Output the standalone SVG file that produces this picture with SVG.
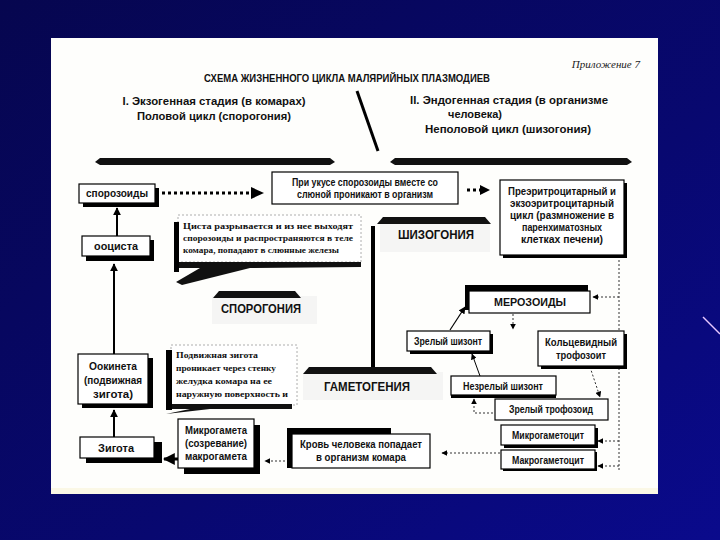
<svg xmlns="http://www.w3.org/2000/svg" width="720" height="540" viewBox="0 0 720 540">
<defs>
<linearGradient id="bg" x1="0" y1="0" x2="1" y2="1">
<stop offset="0" stop-color="#06064f"/>
<stop offset="0.6" stop-color="#080870"/>
<stop offset="1" stop-color="#0a0a8c"/>
</linearGradient>
<marker id="ah" viewBox="0 0 10 10" refX="9" refY="5" markerWidth="4" markerHeight="4" orient="auto" markerUnits="strokeWidth"><path d="M0,0 L10,5 L0,10 z" fill="#000"/></marker>
<marker id="ahs" viewBox="0 0 10 10" refX="9" refY="5" markerWidth="6" markerHeight="6" orient="auto" markerUnits="strokeWidth"><path d="M0,0 L10,5 L0,10 z" fill="#000"/></marker>
<style>
.box{fill:#fff;stroke:#000;stroke-width:1.2}
.sh{fill:#000}
.t{font-family:"Liberation Sans",Arial,sans-serif;font-weight:bold;font-size:10px;fill:#111;text-anchor:middle}
.h{font-family:"Liberation Sans",Arial,sans-serif;font-weight:bold;font-size:13px;fill:#111;text-anchor:middle}
.s{font-family:"Liberation Serif","Times New Roman",serif;font-weight:bold;font-size:9px;fill:#111}
.ln{stroke:#000;stroke-width:2;fill:none}
.dt{stroke:#000;stroke-width:3;stroke-dasharray:3 3;fill:none}
.dd{stroke:#333;stroke-width:1;stroke-dasharray:2 2;fill:none}
.sp{fill:#ececec;opacity:0.45}
</style>
</defs>
<rect width="720" height="540" fill="url(#bg)"/>
<line x1="703" y1="317" x2="720" y2="334" stroke="#e8c8ff" stroke-width="1.5"/>
<rect x="51" y="38" width="607" height="456" fill="#fefefc"/>
<rect x="51" y="488" width="607" height="6" fill="#fbf8e6"/>

<g id="header">
<text x="640" y="68" text-anchor="end" font-family="Liberation Serif,serif" font-style="italic" font-size="11" fill="#222">Приложение 7</text>
<text class="t" x="347" y="82" textLength="286" lengthAdjust="spacingAndGlyphs">СХЕМА ЖИЗНЕННОГО ЦИКЛА МАЛЯРИЙНЫХ ПЛАЗМОДИЕВ</text>
<text class="t" x="214" y="105" font-size="12" textLength="183" lengthAdjust="spacingAndGlyphs">I. Экзогенная стадия (в комарах)</text>
<text class="t" x="214" y="120" font-size="12" textLength="154" lengthAdjust="spacingAndGlyphs">Половой цикл (спорогония)</text>
<text class="t" x="509" y="104" font-size="12" textLength="198" lengthAdjust="spacingAndGlyphs">II. Эндогенная стадия (в организме</text>
<text class="t" x="475" y="118" font-size="12" textLength="54" lengthAdjust="spacingAndGlyphs">человека)</text>
<text class="t" x="508" y="133" font-size="12" textLength="166" lengthAdjust="spacingAndGlyphs">Неполовой цикл (шизогония)</text>
<line x1="357" y1="91" x2="378" y2="151" stroke="#000" stroke-width="3"/>
<polygon points="95,162 100,158 330,158 335,162 330,165 100,165" fill="#111"/>
<polygon points="390,162 395,158 627,158 632,162 627,165 395,165" fill="#111"/>
</g>

<g id="connectors">
<line class="dt" x1="162" y1="193" x2="252" y2="193"/>
<polygon points="251,187 264,193 251,199" fill="#000"/>
<line class="dt" x1="467" y1="190" x2="481" y2="190"/>
<polygon points="480,185 490,190 480,195" fill="#000"/>
<line class="ln" x1="117" y1="236" x2="117" y2="208" marker-end="url(#ah)"/>
<line class="ln" x1="114" y1="354" x2="114" y2="264" marker-end="url(#ah)"/>
<line class="ln" x1="114" y1="437" x2="114" y2="410" marker-end="url(#ah)"/>
<line x1="178" y1="459" x2="164" y2="459" stroke="#000" stroke-width="3" marker-end="url(#ah)"/>
<line class="dd" x1="289" y1="461" x2="265" y2="461" marker-end="url(#ahs)"/>
<line class="dd" x1="500" y1="453" x2="442" y2="453" marker-end="url(#ahs)"/>
<line class="dd" x1="619" y1="256" x2="619" y2="470"/>
<line class="dd" x1="619" y1="297" x2="593" y2="297" marker-end="url(#ahs)"/>
<line class="dd" x1="619" y1="441" x2="598" y2="441" marker-end="url(#ahs)"/>
<line class="dd" x1="619" y1="466" x2="598" y2="466" marker-end="url(#ahs)"/>
<line x1="450" y1="330" x2="465" y2="307" stroke="#000" stroke-width="1.2" marker-end="url(#ahs)"/>
<line class="dd" x1="513" y1="314" x2="513" y2="329" marker-end="url(#ahs)"/>
<line class="dd" x1="590" y1="367" x2="600" y2="397" marker-end="url(#ahs)"/>
<polyline class="dd" points="493,413 474,413 474,399" marker-end="url(#ahs)"/>
<line x1="480" y1="376" x2="472" y2="354" stroke="#000" stroke-width="1" marker-end="url(#ahs)"/>
</g>

<g id="shizogonia">
<rect class="sp" x="380" y="222" width="110" height="30"/>
<polygon points="377,224 383,217 485,217 491,224" fill="#111"/>
<text class="h" x="436" y="239" textLength="76" lengthAdjust="spacingAndGlyphs">ШИЗОГОНИЯ</text>
<line x1="373" y1="226" x2="373" y2="368" stroke="#000" stroke-width="4"/>
</g>
<g id="sporogonia">
<rect class="sp" x="212" y="296" width="105" height="28"/>
<polygon points="213,298 219,291 295,291 301,298" fill="#111"/>
<text class="h" x="261" y="313" textLength="80" lengthAdjust="spacingAndGlyphs">СПОРОГОНИЯ</text>
</g>
<g id="gametogenia">
<rect class="sp" x="303" y="372" width="140" height="28"/>
<polygon points="303,374 309,367 431,367 437,374" fill="#111"/>
<text class="h" x="367" y="391" textLength="86" lengthAdjust="spacingAndGlyphs">ГАМЕТОГЕНИЯ</text>
</g>

<g id="sporozoites">
<rect class="sh" x="83" y="188" width="76" height="19"/>
<rect class="box" x="79" y="184" width="76" height="19"/>
<text class="t" x="117" y="197" textLength="62" lengthAdjust="spacingAndGlyphs">спорозоиды</text>
</g>
<g id="oocyst">
<rect class="sh" x="86" y="240" width="68" height="21"/>
<rect class="box" x="82" y="236" width="68" height="20"/>
<text class="t" x="116" y="250" textLength="44" lengthAdjust="spacingAndGlyphs">ооциста</text>
</g>
<g id="ookinete">
<rect class="sh" x="82" y="358" width="71" height="50"/>
<rect class="box" x="78" y="354" width="70" height="50"/>
<text class="t" x="113" y="370" textLength="48" lengthAdjust="spacingAndGlyphs">Оокинета</text>
<text class="t" x="113" y="384" textLength="58" lengthAdjust="spacingAndGlyphs">(подвижная</text>
<text class="t" x="113" y="398" textLength="40" lengthAdjust="spacingAndGlyphs">зигота)</text>
</g>
<g id="zygote">
<rect class="sh" x="86" y="442" width="76" height="21"/>
<rect class="box" x="80" y="437" width="74" height="21"/>
<text class="t" x="116" y="452" textLength="36" lengthAdjust="spacingAndGlyphs">Зигота</text>
</g>
<g id="microgamete">
<rect class="sh" x="184" y="425" width="76" height="49"/>
<rect class="box" x="178" y="419" width="76" height="49"/>
<text class="t" x="216" y="434" textLength="62" lengthAdjust="spacingAndGlyphs">Микрогамета</text>
<text class="t" x="216" y="447" textLength="62" lengthAdjust="spacingAndGlyphs">(созревание)</text>
<text class="t" x="216" y="460" textLength="62" lengthAdjust="spacingAndGlyphs">макрогамета</text>
</g>
<g id="blood">
<rect class="sh" x="287" y="428" width="104" height="40"/>
<rect class="box" x="292" y="434" width="138" height="34"/>
<text class="t" x="361" y="448" textLength="122" lengthAdjust="spacingAndGlyphs">Кровь человека попадает</text>
<text class="t" x="361" y="461" textLength="90" lengthAdjust="spacingAndGlyphs">в организм комара</text>
</g>
<g id="bite">
<rect class="box" x="272" y="172" width="186" height="32"/>
<text class="t" x="365" y="186" textLength="146" lengthAdjust="spacingAndGlyphs">При укусе спорозоиды вместе со</text>
<text class="t" x="365" y="198" textLength="136" lengthAdjust="spacingAndGlyphs">слюной проникают в организм</text>
</g>
<g id="liver">
<rect class="sh" x="503" y="183" width="124" height="75"/>
<rect class="box" x="500" y="180" width="124" height="75"/>
<text class="t" x="562" y="195" textLength="108" lengthAdjust="spacingAndGlyphs">Преэритроцитарный и</text>
<text class="t" x="562" y="207" textLength="104" lengthAdjust="spacingAndGlyphs">экзоэритроцитарный</text>
<text class="t" x="562" y="219" textLength="104" lengthAdjust="spacingAndGlyphs">цикл (размножение в</text>
<text class="t" x="562" y="231" textLength="80" lengthAdjust="spacingAndGlyphs">паренхиматозных</text>
<text class="t" x="562" y="243" textLength="82" lengthAdjust="spacingAndGlyphs">клетках печени)</text>
</g>
<g id="cyst-note">
<rect x="178" y="215" width="183" height="47" fill="#fff" stroke="#999" stroke-width="0.8" stroke-dasharray="2 2"/>
<rect class="sh" x="174" y="222" width="5" height="50"/>
<polygon points="179,262 361,262 361,267 250,268 182,285 176,282 200,268 179,268" fill="#111"/>
<text class="s" x="183" y="229" textLength="170" lengthAdjust="spacingAndGlyphs">Циста разрывается и из нее выходят</text>
<text class="s" x="183" y="241" textLength="170" lengthAdjust="spacingAndGlyphs">спорозоиды и распространяются в теле</text>
<text class="s" x="183" y="253" textLength="156" lengthAdjust="spacingAndGlyphs">комара, попадают в слюнные железы</text>
</g>
<g id="zygote-note">
<rect x="171" y="345" width="126" height="60" fill="#fff" stroke="#999" stroke-width="0.8" stroke-dasharray="2 2"/>
<rect class="sh" x="166" y="350" width="6" height="60"/>
<polygon points="172,404 292,404 292,409 210,409 166,414 190,409 172,409" fill="#111"/>
<text class="s" x="176" y="358" textLength="82" lengthAdjust="spacingAndGlyphs">Подвижная зигота</text>
<text class="s" x="176" y="371" textLength="100" lengthAdjust="spacingAndGlyphs">проникает через стенку</text>
<text class="s" x="176" y="384" textLength="96" lengthAdjust="spacingAndGlyphs">желудка комара на ее</text>
<text class="s" x="176" y="397" textLength="112" lengthAdjust="spacingAndGlyphs">наружную поверхность и</text>
</g>
<g id="merozoites">
<rect class="sh" x="465" y="285" width="123" height="25"/>
<rect class="box" x="469" y="291" width="121" height="22"/>
<text class="t" x="530" y="306" textLength="72" lengthAdjust="spacingAndGlyphs">МЕРОЗОИДЫ</text>
</g>
<g id="mature-schizont">
<rect class="sh" x="410" y="334" width="83" height="20"/>
<rect class="box" x="407" y="331" width="83" height="20"/>
<text class="t" x="448" y="345" textLength="68" lengthAdjust="spacingAndGlyphs">Зрелый шизонт</text>
</g>
<g id="ring-trophozoite">
<rect class="sh" x="541" y="334" width="86" height="35"/>
<rect class="box" x="538" y="331" width="86" height="35"/>
<text class="t" x="581" y="346" textLength="72" lengthAdjust="spacingAndGlyphs">Кольцевидный</text>
<text class="t" x="581" y="359" textLength="50" lengthAdjust="spacingAndGlyphs">трофозоит</text>
</g>
<g id="immature-schizont">
<rect class="sh" x="451" y="379" width="105" height="19"/>
<rect class="box" x="451" y="376" width="105" height="19"/>
<text class="t" x="503" y="390" textLength="80" lengthAdjust="spacingAndGlyphs">Незрелый шизонт</text>
</g>
<g id="mature-trophozoite">
<rect class="box" x="495" y="399" width="113" height="21"/>
<text class="t" x="551" y="413" textLength="84" lengthAdjust="spacingAndGlyphs">Зрелый трофозоид</text>
</g>
<g id="microgametocyte">
<rect class="sh" x="504" y="428" width="94" height="20"/>
<rect class="box" x="501" y="425" width="94" height="20"/>
<text class="t" x="548" y="439" textLength="72" lengthAdjust="spacingAndGlyphs">Микрогаметоцит</text>
</g>
<g id="macrogametocyte">
<rect class="sh" x="503" y="452" width="94" height="19"/>
<rect class="box" x="501" y="450" width="94" height="19"/>
<text class="t" x="548" y="464" textLength="72" lengthAdjust="spacingAndGlyphs">Макрогаметоцит</text>
</g>
</svg>
